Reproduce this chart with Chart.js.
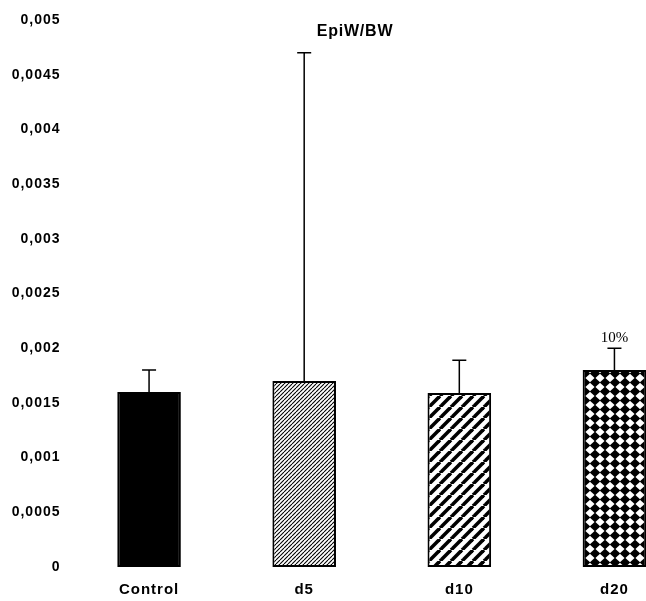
<!DOCTYPE html>
<html>
<head>
<meta charset="utf-8">
<script src="https://cdn.jsdelivr.net/npm/chart.js@4.4.1/dist/chart.umd.min.js"></script>
<style>
  html, body { margin: 0; padding: 0; background: #fff; overflow: hidden; }
  #wrap { width: 646px; height: 601px; overflow: hidden; }
  canvas { display: block; }
</style>
</head>
<body>
<div id="wrap"><canvas id="c" width="710" height="601"></canvas></div>
<script>
// Epididymal weight / body weight ratio per group
const groups = ['Control', 'd5', 'd10', 'd20'];
const means = [0.0016, 0.0017, 0.00159, 0.0018];
const sds = [0.0002, 0.003, 0.0003, 0.0002];
const notes = ['', '', '', '10%'];
const yTickLabels = ['0', '0,0005', '0,001', '0,0015', '0,002', '0,0025', '0,003', '0,0035', '0,004', '0,0045', '0,005'];
const chartTitle = 'EpiW/BW';

function makeTile(w, h, draw) {
  const t = document.createElement('canvas');
  t.width = w; t.height = h;
  const g = t.getContext('2d');
  g.fillStyle = '#fff';
  g.fillRect(0, 0, w, h);
  draw(g, w, h);
  return t;
}
function diagonal(step, lw) {
  return makeTile(step, step, (g, s) => {
    g.strokeStyle = '#000';
    g.lineWidth = lw;
    for (let k = -1; k <= 1; k++) {
      g.beginPath();
      g.moveTo(k * s, s);
      g.lineTo(k * s + s, 0);
      g.stroke();
    }
  });
}
const diamonds = makeTile(10, 9, (g, w, h) => {
  g.fillStyle = '#000';
  g.beginPath();
  g.moveTo(w / 2, -0.4);
  g.lineTo(w + 0.4, h / 2);
  g.lineTo(w / 2, h + 0.4);
  g.lineTo(-0.4, h / 2);
  g.closePath();
  g.fill();
});

const ctx = document.getElementById('c').getContext('2d');
const fills = [
  '#000',
  ctx.createPattern(diagonal(4, 1.1), 'repeat'),
  ctx.createPattern(diagonal(11, 3.6), 'repeat'),
  ctx.createPattern(diamonds, 'repeat')
];

const spacing = {
  id: 'spacing',
  beforeLayout(chart) { chart.ctx.letterSpacing = '1px'; },
  beforeDraw(chart) { chart.ctx.letterSpacing = '1px'; }
};

const errorBars = {
  id: 'errorBars',
  afterDatasetsDraw(chart) {
    const c = chart.ctx;
    const y = chart.scales.y;
    const meta = chart.getDatasetMeta(0);
    c.save();
    c.strokeStyle = '#000';
    c.lineWidth = 1.5;
    meta.data.forEach((bar, i) => {
      const top = y.getPixelForValue(means[i] + sds[i]);
      c.beginPath();
      c.moveTo(bar.x, bar.y);
      c.lineTo(bar.x, top);
      c.moveTo(bar.x - 7, top);
      c.lineTo(bar.x + 7, top);
      c.stroke();
      if (notes[i]) {
        c.letterSpacing = '0px';
        c.fillStyle = '#000';
        c.font = '15px "Liberation Serif", "Times New Roman", serif';
        c.textAlign = 'center';
        c.textBaseline = 'bottom';
        c.fillText(notes[i], bar.x, top - 3);
      }
    });
    c.restore();
  }
};

const titleText = {
  id: 'titleText',
  afterDraw(chart) {
    const c = chart.ctx;
    c.save();
    c.letterSpacing = '0.8px';
    c.fillStyle = '#000';
    c.font = 'bold 16px "Liberation Sans", Arial, sans-serif';
    c.textAlign = 'center';
    c.textBaseline = 'middle';
    c.fillText(chartTitle, chart.width / 2, chart.chartArea.top + 12);
    c.restore();
  }
};

new Chart(ctx, {
  type: 'bar',
  data: {
    labels: groups,
    datasets: [{
      data: means,
      backgroundColor: fills,
      borderColor: '#000',
      borderWidth: 2,
      borderSkipped: false,
      barPercentage: 0.41,
      categoryPercentage: 1.0
    }]
  },
  options: {
    responsive: false,
    animation: false,
    events: [],
    layout: { padding: { top: 20, right: 18, left: 0, bottom: 0 } },
    plugins: { legend: { display: false }, title: { display: false }, tooltip: { enabled: false } },
    scales: {
      x: {
        grid: { display: false, drawTicks: false },
        border: { display: false },
        ticks: {
          color: '#000',
          padding: 14,
          font: { family: '"Liberation Sans", Arial, sans-serif', size: 15, weight: 'bold' }
        },
        afterFit(scale) { scale.height = 34; }
      },
      y: {
        min: 0,
        max: 0.005,
        grid: { display: false, drawTicks: false },
        border: { display: false },
        ticks: {
          stepSize: 0.0005,
          color: '#000',
          padding: 11,
          font: { family: '"Liberation Sans", Arial, sans-serif', size: 14, weight: 'bold' },
          callback: (v, i) => yTickLabels[i]
        },
        afterFit(scale) { scale.width = 71.5; }
      }
    }
  },
  plugins: [spacing, errorBars, titleText]
});
</script>
</body>
</html>
